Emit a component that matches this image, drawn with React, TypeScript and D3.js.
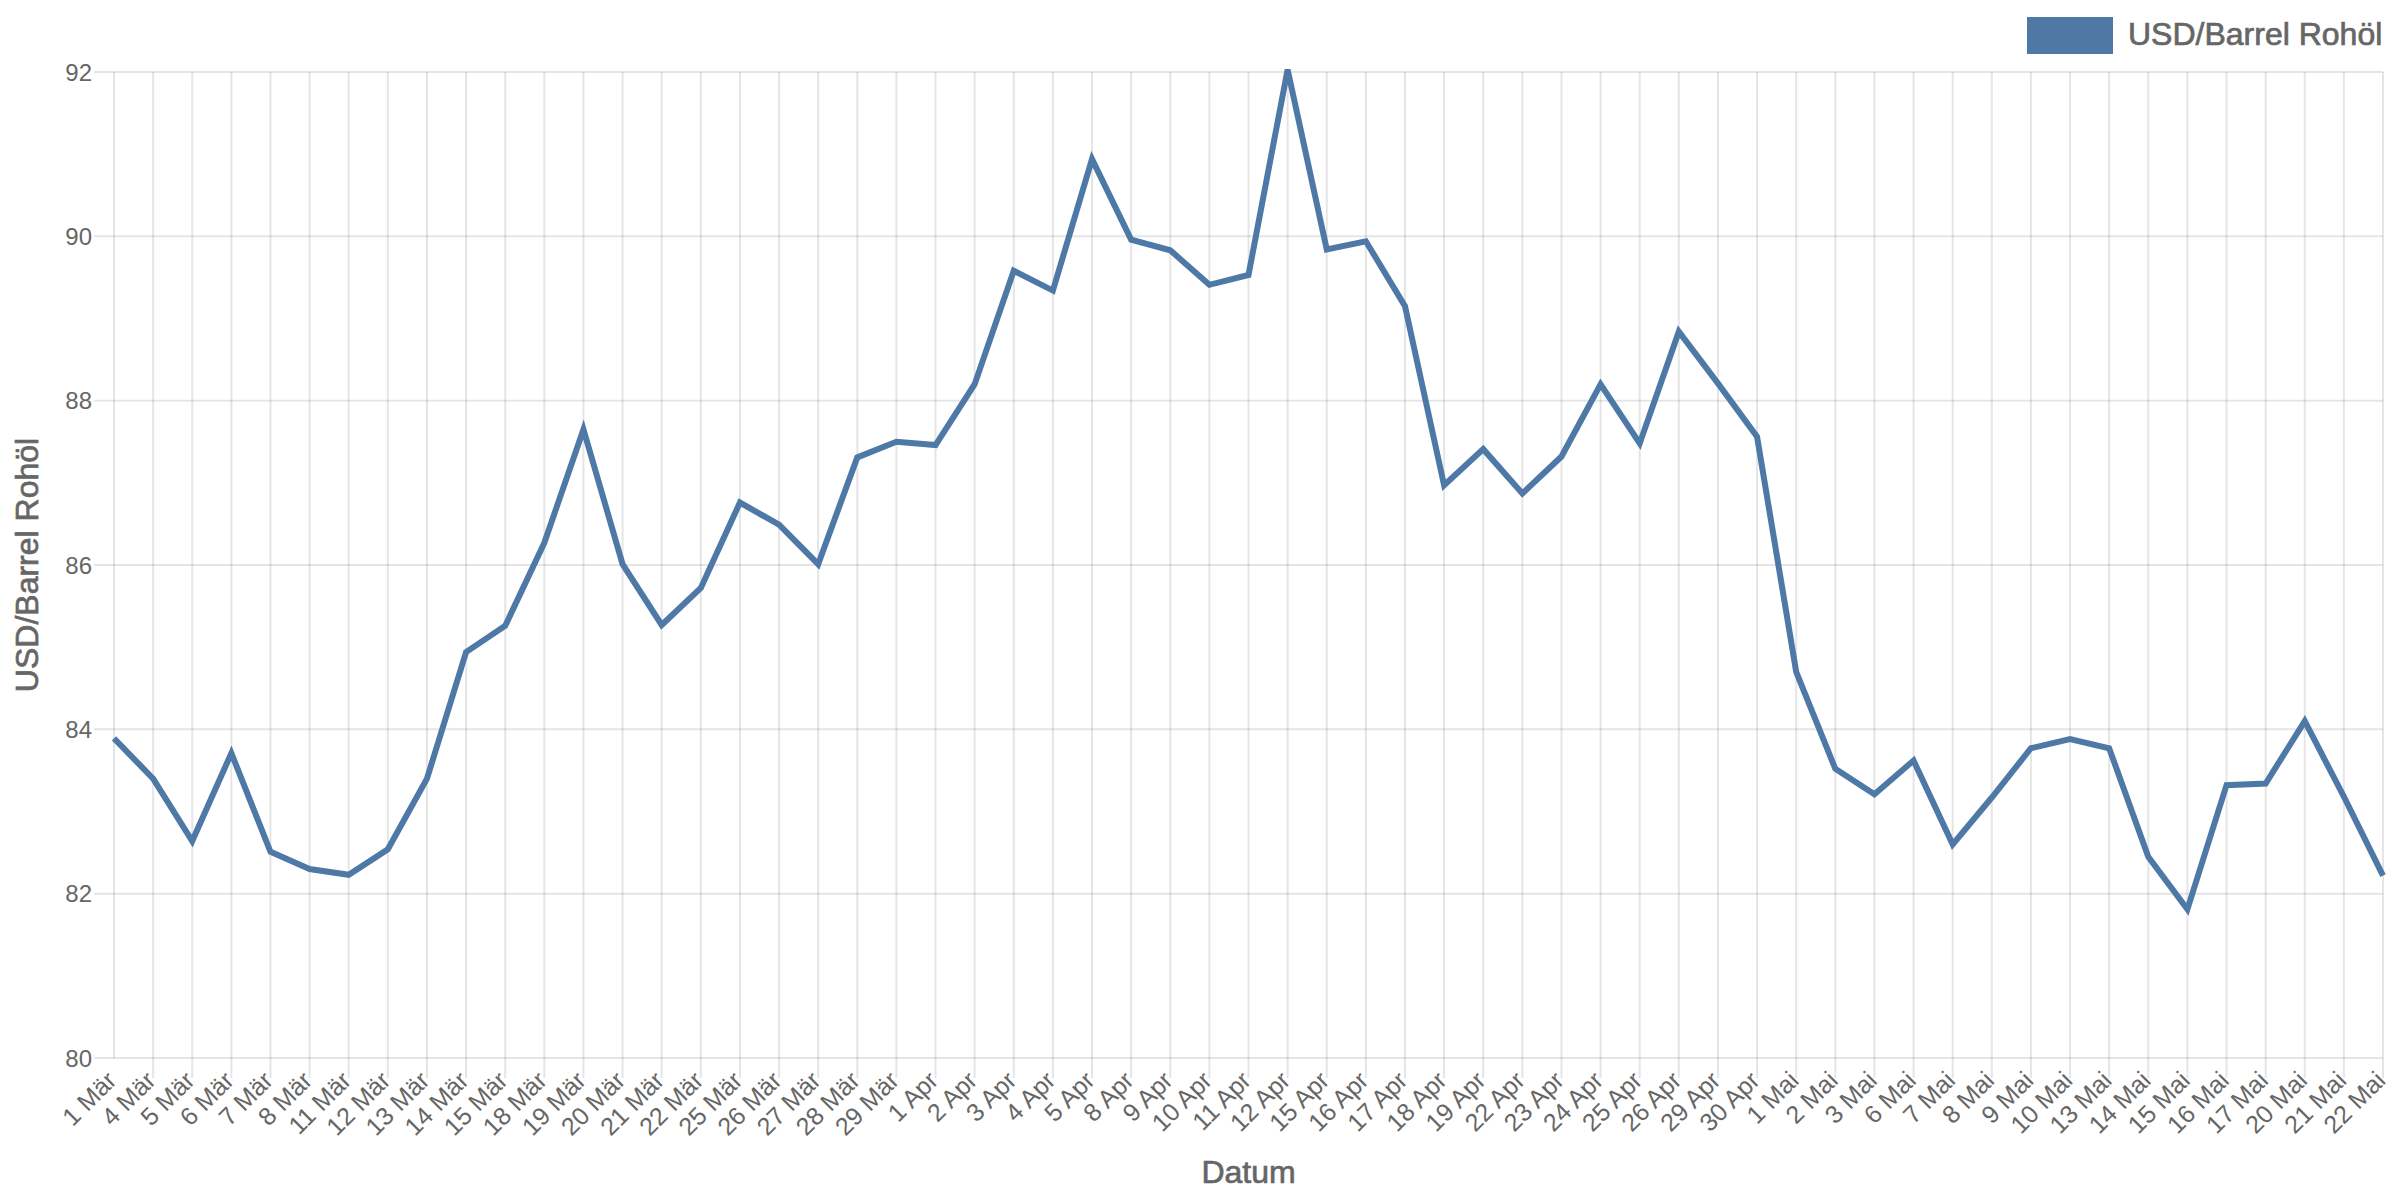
import React from "react";
import * as d3 from "d3";

const categories: string[] = [
  "1 Mär", "4 Mär", "5 Mär", "6 Mär", "7 Mär", "8 Mär", "11 Mär", "12 Mär", "13 Mär", "14 Mär",
  "15 Mär", "18 Mär", "19 Mär", "20 Mär", "21 Mär", "22 Mär", "25 Mär", "26 Mär", "27 Mär", "28 Mär",
  "29 Mär", "1 Apr", "2 Apr", "3 Apr", "4 Apr", "5 Apr", "8 Apr", "9 Apr", "10 Apr", "11 Apr",
  "12 Apr", "15 Apr", "16 Apr", "17 Apr", "18 Apr", "19 Apr", "22 Apr", "23 Apr", "24 Apr", "25 Apr",
  "26 Apr", "29 Apr", "30 Apr", "1 Mai", "2 Mai", "3 Mai", "6 Mai", "7 Mai", "8 Mai", "9 Mai",
  "10 Mai", "13 Mai", "14 Mai", "15 Mai", "16 Mai", "17 Mai", "20 Mai", "21 Mai", "22 Mai",
];

const oilPrice: number[] = [
  83.89, 83.4, 82.64, 83.71, 82.51, 82.3, 82.23, 82.54, 83.4, 84.94,
  85.26, 86.27, 87.65, 86.01, 85.27, 85.72, 86.76, 86.49, 86.01, 87.31,
  87.5, 87.46, 88.2, 89.58, 89.34, 90.94, 89.96, 89.83, 89.41, 89.53,
  92.03, 89.84, 89.94, 89.15, 86.97, 87.41, 86.87, 87.32, 88.2, 87.48,
  88.84, 88.21, 87.56, 84.7, 83.52, 83.21, 83.62, 82.6, 83.17, 83.77,
  83.88, 83.77, 82.45, 81.81, 83.32, 83.34, 84.1, 83.18, 82.22,
];

const yTicks: number[] = [80, 82, 84, 86, 88, 90, 92];
const seriesName = "USD/Barrel Rohöl";
const xTitle = "Datum";
const yTitle = "USD/Barrel Rohöl";

const W = 2400;
const H = 1200;
const left = 114;
const right = 2383;
const top = 72;
const bottom = 1058;
const tick = 20;
const FONT = "'Liberation Sans', Arial, sans-serif";
const TEXT = "#666666";
const GRID = "rgba(0,0,0,0.1)";
const BLUE = "#4e79a7";

export default function App() {
  const x = d3.scalePoint<string>().domain(categories).range([left, right]);
  const y = d3.scaleLinear().domain([80, 92]).range([bottom, top]);
  const line = d3
    .line<number>()
    .x((_, i) => x(categories[i]) as number)
    .y((d) => y(d));

  return (
    <svg
      width={W}
      height={H}
      style={{ position: "absolute", left: 0, top: 0, background: "#fff" }}
      fontFamily={FONT}
    >
      <rect x={0} y={0} width={W} height={H} fill="#fff" />
      {/* horizontal grid */}
      {yTicks.map((t) => (
        <g key={"y" + t}>
          <line x1={left - tick} x2={right} y1={y(t)} y2={y(t)} stroke={GRID} strokeWidth={2} />
          <text
            x={left - tick - 2}
            y={y(t)}
            textAnchor="end"
            dominantBaseline="central"
            fontSize={24}
            fill={TEXT}
          >
            {t}
          </text>
        </g>
      ))}
      {/* vertical grid */}
      {categories.map((c, i) => {
        const cx = x(c) as number;
        return (
          <g key={"x" + c}>
            <line
              x1={cx}
              x2={cx}
              y1={top}
              y2={i === 0 ? bottom : bottom + tick}
              stroke={GRID}
              strokeWidth={2}
            />
            <text
              transform={`translate(${cx + 4},${bottom + 24}) rotate(-45)`}
              textAnchor="end"
              fontSize={25}
              fill={TEXT}
            >
              {c}
            </text>
          </g>
        );
      })}
      {/* data line */}
      <path
        d={line(oilPrice) || ""}
        fill="none"
        stroke={BLUE}
        strokeWidth={6}
        strokeLinejoin="miter"
      />
      {/* axis titles */}
      <text
        x={(left + right) / 2}
        y={1183}
        textAnchor="middle"
        fontSize={32}
        fill={TEXT}
        stroke={TEXT}
        strokeWidth={0.7}
      >
        {xTitle}
      </text>
      <text
        transform={`translate(38,${(top + bottom) / 2}) rotate(-90)`}
        textAnchor="middle"
        fontSize={32}
        fill={TEXT}
        stroke={TEXT}
        strokeWidth={0.7}
      >
        {yTitle}
      </text>
      {/* legend */}
      <rect x={2027} y={17} width={86} height={37} fill={BLUE} />
      <text x={2128} y={45} fontSize={32} fill={TEXT} stroke={TEXT} strokeWidth={0.7}>
        {seriesName}
      </text>
    </svg>
  );
}
